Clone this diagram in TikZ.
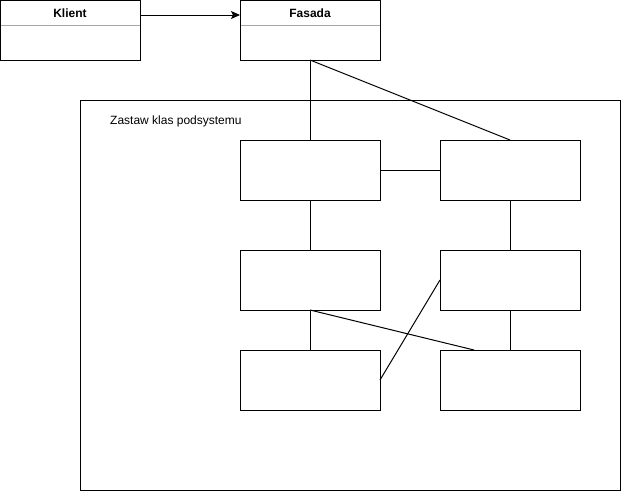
\documentclass[tikz,border=0pt]{standalone}
\usepackage{fontspec}
\setmainfont{Liberation Sans}
\usetikzlibrary{arrows.meta,calc}
\tikzset{
  box/.style={draw=black,line width=1pt,fill=white,minimum width=140pt,minimum height=60pt,inner sep=0pt,outer sep=0pt},
  hdr/.style={draw=gray!70,line width=1pt},
  ttl/.style={font=\fontsize{12}{14}\selectfont\bfseries,inner sep=0pt},
  conn/.style={draw=black,line width=1pt},
  lbl/.style={font=\fontsize{12}{14}\selectfont,inner sep=0pt,anchor=west}
}
\begin{document}
\begin{tikzpicture}[x=1pt,y=-1pt]
\useasboundingbox (0,0) rectangle (621,491);
% subsystem frame
\node[box,minimum width=540pt,minimum height=390pt] (frame) at (350,295) {};
\node[lbl] (flbl) at (110,121) {Zastaw klas podsystemu};
% classes
\node[box] (klient) at (70,30) {};
\draw[hdr] ($(klient.north west)+(0.5,25)$) -- ($(klient.north east)+(-0.5,25)$);
\node[ttl] (kt) at ($(klient.north)+(0,13)$) {Klient};
\node[box] (fasada) at (310,30) {};
\draw[hdr] ($(fasada.north west)+(0.5,25)$) -- ($(fasada.north east)+(-0.5,25)$);
\node[ttl] (ft) at ($(fasada.north)+(0,13)$) {Fasada};
% subsystem boxes
\node[box] (sa) at (310,170) {};
\node[box] (sb) at (510,170) {};
\node[box] (sc) at (310,280) {};
\node[box] (sd) at (510,280) {};
\node[box] (se) at (310,380) {};
\node[box] (sf) at (510,380) {};
\coordinate (fp) at ($(sf.north west)+(34,0)$);
% connectors
\draw[conn,-{Stealth[length=9pt,width=8pt,inset=2pt]}] ($(klient.north east)+(0,15)$) -- ($(fasada.north west)+(0,15)$);
\draw[conn] (fasada.south) -- (sa.north);
\draw[conn] (fasada.south) -- (sb.north);
\draw[conn] (sa.east) -- (sb.west);
\draw[conn] (sa.south) -- (sc.north);
\draw[conn] (sb.south) -- (sd.north);
\draw[conn] (sc.south) -- (se.north);
\draw[conn] (sd.south) -- (sf.north);
\draw[conn] (sc.south) -- (fp);
\draw[conn] (se.east) -- (sd.west);
\end{tikzpicture}
\end{document}
